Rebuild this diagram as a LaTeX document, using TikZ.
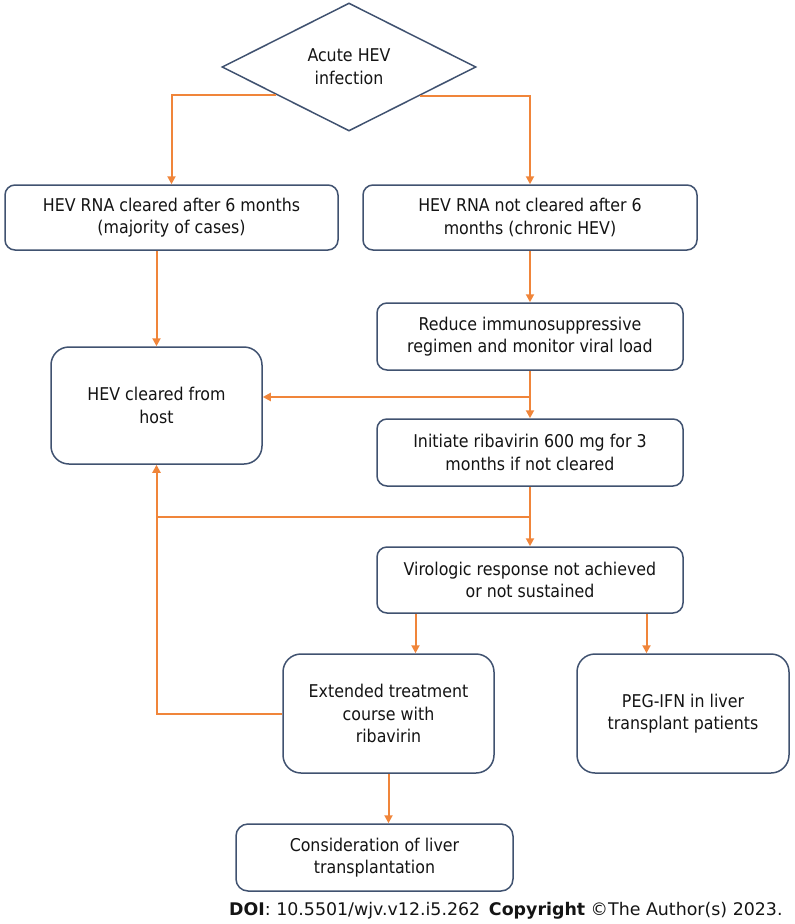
\documentclass[tikz,border=0pt]{standalone}
\usepackage{fontspec}
\setmainfont{DejaVu Sans Condensed}
\newfontfamily\doifont{DejaVu Sans}
\usetikzlibrary{shapes.geometric,arrows.meta}
\definecolor{boxline}{RGB}{64,82,112}
\definecolor{flow}{RGB}{240,133,58}
\definecolor{txt}{RGB}{20,20,20}
\tikzset{
  box/.style={draw=boxline,line width=1.5pt,rounded corners=10pt,fill=white,
    align=center,inner sep=2pt,text=txt,font=\fontsize{17.6}{22.7}\selectfont},
  bigbox/.style={box,rounded corners=18pt},
  arr/.style={draw=flow,line width=2pt,-{Triangle[length=8pt,width=8pt]}},
  ln/.style={draw=flow,line width=2pt}
}
\begin{document}
\begin{tikzpicture}[x=1pt,y=-1pt]
\useasboundingbox (0,0) rectangle (795,924);
\node[shape=diamond,draw=boxline,line width=1.5pt,minimum width=254pt,minimum height=128pt,inner sep=0pt,
  align=center,text=txt,font=\fontsize{17.6}{22.7}\selectfont] (d) at (349,67) {Acute HEV\\infection};
\node[box,minimum width=333pt,minimum height=65pt] (b1) at (171.5,217.5) {HEV RNA cleared after 6 months\\(majority of cases)};
\node[box,minimum width=334pt,minimum height=65pt] (b2) at (530,217.5) {HEV RNA not cleared after 6\\months (chronic HEV)};
\node[bigbox,minimum width=211pt,minimum height=117pt] (hc) at (156.5,405.5) {HEV cleared from\\host};
\node[box,minimum width=306pt,minimum height=67pt] (b3) at (530,336.5) {Reduce immunosuppressive\\regimen and monitor viral load};
\node[box,minimum width=306pt,minimum height=67pt] (b4) at (530,452.5) {Initiate ribavirin 600 mg for 3\\months if not cleared};
\node[box,minimum width=306pt,minimum height=66pt] (b5) at (530,580) {Virologic response not achieved\\or not sustained};
\node[bigbox,minimum width=211pt,minimum height=119pt] (ext) at (388.5,713.5) {Extended treatment\\course with\\ribavirin};
\node[bigbox,minimum width=212pt,minimum height=119pt] (peg) at (683,713.5) {PEG-IFN in liver\\transplant patients};
\node[box,rounded corners=12pt,minimum width=277pt,minimum height=67pt] (cons) at (374.5,857.5) {Consideration of liver\\transplantation};
\node[anchor=base west,inner sep=0pt,text=txt,font=\doifont\fontsize{17.4}{20}\selectfont] (doi) at (229,915)
  {\textbf{DOI}: 10.5501/wjv.v12.i5.262\hspace{0.5em}\textbf{Copyright} ©The Author(s) 2023.};
% connectors
\coordinate (j1) at (530,397);
\coordinate (j2) at (530,517);
\draw[arr] (d.201.4) -| (b1.north);
\draw[arr] (d.338.6) -| (b2.north);
\draw[arr] (b1.south -| hc.north) -- (hc.north);
\draw[arr] (b2.south) -- (b3.north);
\draw[arr] (b3.south) -- (b4.north);
\draw[arr] (j1) -- (j1 -| hc.east);
\draw[arr] (b4.south) -- (b5.north);
\draw[ln] (j2) -- (j2 -| hc.south);
\draw[arr] (ext.west) -| (hc.south);
\draw[arr] ([xshift=-114.5pt]b5.south) -- ([xshift=-114.5pt]b5.south |- ext.north);
\draw[arr] ([xshift=116.5pt]b5.south) -- ([xshift=116.5pt]b5.south |- peg.north);
\draw[arr] (ext.south) -- (ext.south |- cons.north);
\end{tikzpicture}
\end{document}
